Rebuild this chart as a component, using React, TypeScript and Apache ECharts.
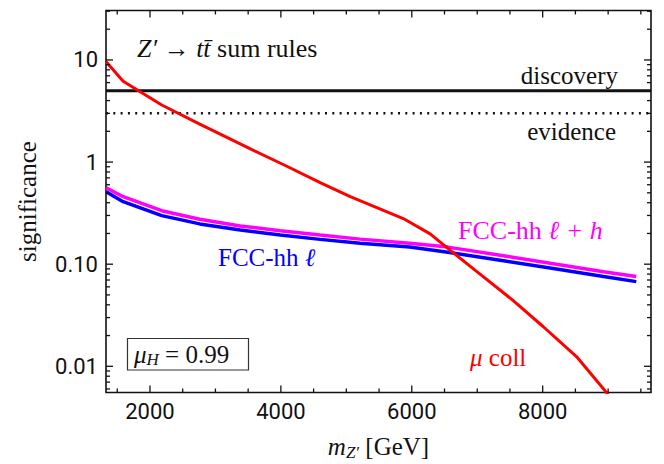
import React, { useEffect, useRef } from "react";
import * as echarts from "echarts";

// ---- axis ranges and ticks ----
const xMin = 1328;
const xMax = 9655;
const yMin = 0.00554;
const yMax = 30.5;
const xMajor = [2000, 4000, 6000, 8000];
const xMinor = [1500, 2500, 3000, 3500, 4500, 5000, 5500, 6500, 7000, 7500, 8500, 9000, 9500];
const yMajor = [0.01, 0.1, 1, 10];
const yMinor = [
  0.006, 0.007, 0.008, 0.009,
  0.02, 0.03, 0.04, 0.05, 0.06, 0.07, 0.08, 0.09,
  0.2, 0.3, 0.4, 0.5, 0.6, 0.7, 0.8, 0.9,
  2, 3, 4, 5, 6, 7, 8, 9,
  20, 30,
];

// ---- data ----
const muMass = [1330, 1590, 2180, 2760, 3550, 4090, 4600, 5060, 5870, 6280, 6580, 6990, 7550, 8010, 8520, 9000];
const muSig = [9.6, 6.2, 3.62, 2.35, 1.33, 0.91, 0.63, 0.458, 0.28, 0.198, 0.138, 0.085, 0.044, 0.0244, 0.0124, 0.0053];

const fccMass = [1330, 1590, 2180, 2760, 3380, 3990, 4600, 5210, 5970, 6550, 7400, 8210, 8930, 9430];
const fccLH = [0.561, 0.458, 0.334, 0.275, 0.237, 0.213, 0.193, 0.176, 0.16, 0.147, 0.121, 0.1, 0.0845, 0.0756];
const fccL = [0.513, 0.409, 0.299, 0.248, 0.216, 0.193, 0.175, 0.16, 0.147, 0.131, 0.108, 0.0897, 0.0756, 0.0675];

const discoveryLevel = 5;
const evidenceLevel = 3;

const SERIF = "'Liberation Serif', 'DejaVu Serif', serif";
const SANS = "Roboto, 'Noto Sans', sans-serif";
const INK = "#111";
const TICK = "#111";

function fmtY(v: number): string {
  if (Math.abs(v - 0.1) < 1e-9) return "0.10";
  if (Math.abs(v - 0.01) < 1e-9) return "0.01";
  if (Math.abs(v - 1) < 1e-9) return "1";
  if (Math.abs(v - 10) < 1e-9) return "10";
  return String(v);
}

// inward ticks on all four frame sides, placed through the axes' scales
function xTicks(values: number[], len: number, atTop: boolean) {
  return {
    type: "scatter",
    silent: true,
    clip: false,
    z: 8,
    symbol: "rect",
    symbolSize: [1.3, len],
    symbolOffset: [0, atTop ? len / 2 : -len / 2],
    itemStyle: { color: TICK, opacity: 1 },
    data: values.map((v) => [v, atTop ? yMax : yMin]),
  };
}
function yTicks(values: number[], len: number, atRight: boolean) {
  return {
    type: "scatter",
    silent: true,
    clip: false,
    z: 8,
    symbol: "rect",
    symbolSize: [len, 1.3],
    symbolOffset: [atRight ? -len / 2 : len / 2, 0],
    itemStyle: { color: TICK, opacity: 1 },
    data: values.map((v) => [atRight ? xMax : xMin, v]),
  };
}

export default function App() {
  const ref = useRef<HTMLDivElement>(null);

  useEffect(() => {
    if (!ref.current) return;
    const chart = echarts.init(ref.current, null, { renderer: "svg" });

    const option: any = {
      animation: false,
      backgroundColor: "#ffffff",
      grid: {
        left: 106,
        right: 13,
        top: 10.5,
        bottom: 71.5,
        containLabel: false,
        outerBoundsMode: "none",
        show: true,
        borderColor: INK,
        borderWidth: 1.6,
        backgroundColor: "transparent",
      },
      xAxis: {
        type: "value",
        min: xMin,
        max: xMax,
        position: "bottom",
        splitLine: { show: false },
        axisLine: { show: false, onZero: false },
        axisTick: { show: false },
        axisLabel: {
          show: true,
          customValues: xMajor,
          formatter: (v: number) => String(v),
          fontFamily: SANS,
          fontSize: 22,
          color: INK,
          margin: 8,
        },
        name: "{i|m}{s|Z′} {n|[GeV]}",
        nameLocation: "middle",
        nameGap: 40,
        nameTextStyle: {
          fontFamily: SERIF,
          fontSize: 25,
          color: INK,
          rich: {
            i: { fontFamily: SERIF, fontSize: 25, fontStyle: "italic", color: INK, lineHeight: 28, verticalAlign: "middle" },
            s: { fontFamily: SERIF, fontSize: 17, fontStyle: "italic", color: INK, lineHeight: 16, verticalAlign: "bottom" },
            n: { fontFamily: SERIF, fontSize: 25, color: INK, lineHeight: 28, verticalAlign: "middle" },
          },
        },
      },
      yAxis: {
        type: "log",
        logBase: 10,
        min: yMin,
        max: yMax,
        position: "left",
        splitLine: { show: false },
        minorSplitLine: { show: false },
        axisLine: { show: false, onZero: false },
        axisTick: { show: false },
        axisLabel: {
          show: true,
          customValues: yMajor,
          formatter: (v: number) => fmtY(v),
          fontFamily: SANS,
          fontSize: 22,
          color: INK,
          margin: 8,
        },
        name: "significance",
        nameLocation: "middle",
        nameGap: 66,
        nameTextStyle: { fontFamily: SERIF, fontSize: 25, color: INK },
      },
      series: [
        {
          name: "discovery",
          type: "line",
          data: [[xMin, discoveryLevel], [xMax, discoveryLevel]],
          symbol: "none",
          lineStyle: { color: INK, width: 3 },
          z: 2,
        },
        {
          name: "evidence",
          type: "line",
          data: [[xMin, evidenceLevel], [xMax, evidenceLevel]],
          symbol: "none",
          lineStyle: { color: INK, width: 2.5, type: [2, 5.3], cap: "butt" },
          z: 2,
        },
        {
          name: "FCC-hh l",
          type: "line",
          data: fccMass.map((m, i) => [m, fccL[i]]),
          symbol: "none",
          lineStyle: { color: "#0000ff", width: 3.5 },
          z: 3,
        },
        {
          name: "FCC-hh l+h",
          type: "line",
          data: fccMass.map((m, i) => [m, fccLH[i]]),
          symbol: "none",
          lineStyle: { color: "#ff00ff", width: 3.5 },
          z: 4,
        },
        {
          name: "mu coll",
          type: "line",
          data: muMass.map((m, i) => [m, muSig[i]]),
          symbol: "none",
          lineStyle: { color: "#ff0000", width: 3 },
          z: 5,
        },
        xTicks(xMajor, 7, false),
        xTicks(xMinor, 4, false),
        xTicks(xMajor, 7, true),
        xTicks(xMinor, 4, true),
        yTicks(yMajor, 7, false),
        yTicks(yMinor, 4, false),
        yTicks(yMajor, 7, true),
        yTicks(yMinor, 4, true),
      ],
      graphic: [
        {
          type: "text",
          x: 137,
          y: 48,
          style: {
            text: "{i|Z′}{n| → }{i|tt\u0304}{n| sum rules}",
            fontFamily: SERIF,
            fontSize: 26,
            fill: INK,
            align: "left",
            verticalAlign: "middle",
            rich: {
              i: { fontFamily: SERIF, fontSize: 26, fontStyle: "italic", fill: INK },
              n: { fontFamily: SERIF, fontSize: 26, fill: INK },
            },
          },
        },
        {
          type: "text",
          x: 618,
          y: 75,
          style: { text: "discovery", fontFamily: SERIF, fontSize: 25, fill: INK, align: "right", verticalAlign: "middle" },
        },
        {
          type: "text",
          x: 616,
          y: 131,
          style: { text: "evidence", fontFamily: SERIF, fontSize: 25, fill: INK, align: "right", verticalAlign: "middle" },
        },
        {
          type: "text",
          x: 458,
          y: 230,
          style: {
            text: "{n|FCC-hh }{i|ℓ + h}",
            fontFamily: SERIF,
            fontSize: 26,
            fill: "#ff00ff",
            align: "left",
            verticalAlign: "middle",
            rich: {
              n: { fontFamily: SERIF, fontSize: 26, fill: "#ff00ff" },
              i: { fontFamily: SERIF, fontSize: 26, fontStyle: "italic", fill: "#ff00ff" },
            },
          },
        },
        {
          type: "text",
          x: 218,
          y: 257,
          style: {
            text: "{n|FCC-hh }{i|ℓ}",
            fontFamily: SERIF,
            fontSize: 25,
            fill: "#0000ff",
            align: "left",
            verticalAlign: "middle",
            rich: {
              n: { fontFamily: SERIF, fontSize: 25, fill: "#0000ff" },
              i: { fontFamily: SERIF, fontSize: 25, fontStyle: "italic", fill: "#0000ff" },
            },
          },
        },
        {
          type: "text",
          x: 470,
          y: 357,
          style: {
            text: "{i|μ}{n| coll}",
            fontFamily: SERIF,
            fontSize: 25,
            fill: "#ff0000",
            align: "left",
            verticalAlign: "middle",
            rich: {
              i: { fontFamily: SERIF, fontSize: 25, fontStyle: "italic", fill: "#ff0000" },
              n: { fontFamily: SERIF, fontSize: 25, fill: "#ff0000" },
            },
          },
        },
        {
          type: "rect",
          shape: { x: 127.5, y: 338.5, width: 121, height: 31.5 },
          style: { fill: "#ffffff", stroke: "#333", lineWidth: 1.2 },
          z: 10,
        },
        {
          type: "text",
          x: 134,
          y: 354,
          z: 11,
          style: {
            text: "{i|μ}{s|H}{n| = 0.99}",
            fontFamily: SERIF,
            fontSize: 25,
            fill: INK,
            align: "left",
            verticalAlign: "middle",
            rich: {
              i: { fontFamily: SERIF, fontSize: 25, fontStyle: "italic", fill: INK, lineHeight: 28, verticalAlign: "middle" },
              s: { fontFamily: SERIF, fontSize: 17, fontStyle: "italic", fill: INK, lineHeight: 16, verticalAlign: "bottom" },
              n: { fontFamily: SERIF, fontSize: 25, fill: INK, lineHeight: 28, verticalAlign: "middle" },
            },
          },
        },
      ],
    };

    chart.setOption(option);
    return () => {
      chart.dispose();
    };
  }, []);

  return (
    <div
      ref={ref}
      style={{ position: "fixed", left: 0, top: 0, width: 664, height: 464, background: "#fff" }}
    />
  );
}
